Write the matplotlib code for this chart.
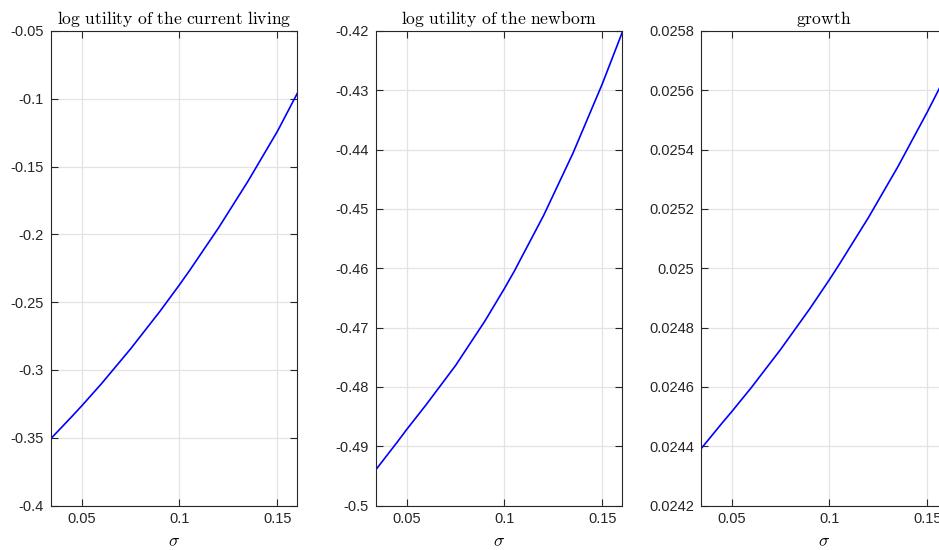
import numpy as np
import matplotlib
matplotlib.use('Agg')
import matplotlib.pyplot as plt
from matplotlib.ticker import FixedLocator, FixedFormatter

plt.rcParams['font.family'] = ['Liberation Sans', 'DejaVu Sans']
plt.rcParams['mathtext.fontset'] = 'cm'

# ---- data ----
sigma = [0.0342, 0.045, 0.05, 0.06, 0.075, 0.09, 0.1, 0.105, 0.12, 0.135, 0.15, 0.1602]
u_cur = [-0.3508, -0.3344, -0.3266, -0.3104, -0.2845, -0.2568, -0.2372, -0.2270, -0.1951, -0.1608, -0.1241, -0.0960]
u_new = [-0.4940, -0.4894, -0.4872, -0.4830, -0.4764, -0.4689, -0.4634, -0.4605, -0.4511, -0.4406, -0.4289, -0.4202]
growth = [0.024390, 0.024477, 0.024516, 0.024597, 0.024726, 0.024864, 0.024962, 0.025013,
          0.025172, 0.025343, 0.025527, 0.025659]

titles = ['log utility of the current living', 'log utility of the newborn', 'growth']
yticks = [
    [-0.4, -0.35, -0.3, -0.25, -0.2, -0.15, -0.1, -0.05],
    [-0.5, -0.49, -0.48, -0.47, -0.46, -0.45, -0.44, -0.43, -0.42],
    [0.0242, 0.0244, 0.0246, 0.0248, 0.025, 0.0252, 0.0254, 0.0256, 0.0258],
]
xticks = [0.05, 0.1, 0.15]
xlim = (0.0342, 0.1602)

W, H = 939, 550
fig = plt.figure(figsize=(W / 100, H / 100), dpi=100)
lefts = [50.7, 375.7, 700.7]   # third panel runs past the right edge, as in the original
ax_w, top, bottom = 246.6, 31, 505.5

series = [u_cur, u_new, growth]
for i in range(3):
    ax = fig.add_axes([lefts[i] / W, 1 - bottom / H, ax_w / W, (bottom - top) / H])
    ax.plot(sigma, series[i], color='#0000ff', lw=1.2)
    ax.set_xlim(*xlim)
    ax.set_ylim(yticks[i][0], yticks[i][-1])
    ax.xaxis.set_major_locator(FixedLocator(xticks))
    ax.xaxis.set_major_formatter(FixedFormatter(['%g' % v for v in xticks]))
    ax.yaxis.set_major_locator(FixedLocator(yticks[i]))
    ax.yaxis.set_major_formatter(FixedFormatter(['%g' % v for v in yticks[i]]))
    ax.grid(True, color='#e3e3e3', lw=0.9)
    ax.set_axisbelow(True)
    ax.tick_params(direction='in', length=5, width=0.8, top=True, right=True,
                   colors='#262626', labelsize=10.5, pad=5)
    for s in ax.spines.values():
        s.set_color('#262626')
        s.set_linewidth(0.8)
    ax.set_title(r'$\mathrm{' + titles[i].replace(' ', r'\ ') + '}$', fontsize=12.7, pad=5)
    ax.set_xlabel(r'$\sigma$', fontsize=12.7, labelpad=5)

fig.savefig('out.png', dpi=100)
